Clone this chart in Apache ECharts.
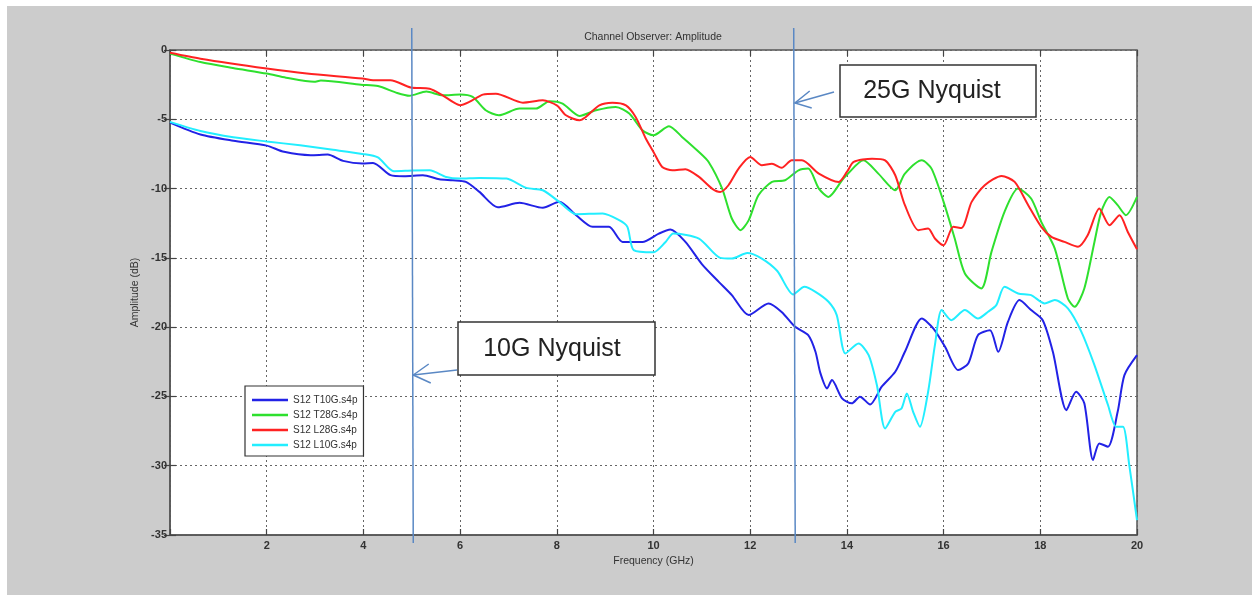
<!DOCTYPE html>
<html><head><meta charset="utf-8">
<script src="https://cdn.jsdelivr.net/npm/echarts@6/dist/echarts.min.js"></script>
<style>
html,body{margin:0;padding:0;background:#fff;}
#wrap{position:relative;width:1252px;height:595px;overflow:hidden;}
#bg{position:absolute;left:7px;top:6px;width:1245px;height:589px;background:#cccccc;}
#chart{position:absolute;left:0;top:0;width:1252px;height:595px;}
</style></head><body>
<div id="wrap"><div id="bg"></div><div id="chart"></div></div>
<script>
const chartTitle = 'Channel Observer: Amplitude';
const xName = 'Frequency (GHz)';
const yName = 'Amplitude (dB)';
const seriesNames = ['S12 T10G.s4p', 'S12 T28G.s4p', 'S12 L28G.s4p', 'S12 L10G.s4p'];
const seriesColors = ['#2222e6', '#2ee02e', '#ff2222', '#22eeff'];
const nyquistFreqs = [5.0, 12.9];
const nyquistLabels = ['10G Nyquist', '25G Nyquist'];

const t10gFreq = [0,0.63,1.31,2.0,2.36,2.91,3.26,3.58,3.98,4.2,4.56,4.84,5.23,5.57,5.85,6.12,6.4,6.78,7.23,7.71,8.05,8.4,8.74,9.08,9.36,9.77,10.11,10.35,10.66,11.0,11.35,11.62,11.97,12.38,12.65,12.93,13.2,13.35,13.45,13.59,13.69,13.9,14.1,14.27,14.48,14.72,15.0,15.2,15.55,15.79,16.03,16.3,16.51,16.71,16.96,17.13,17.33,17.57,17.81,18.05,18.26,18.54,18.74,18.91,19.09,19.22,19.4,19.6,19.74,20.0];
const t10gDb = [-5.24,-6.1,-6.55,-6.9,-7.35,-7.59,-7.55,-8.0,-8.19,-8.15,-9.03,-9.11,-9.04,-9.33,-9.4,-9.52,-10.24,-11.35,-11.03,-11.39,-10.96,-11.92,-12.76,-12.76,-13.85,-13.85,-13.25,-12.96,-13.85,-15.45,-16.73,-17.69,-19.13,-18.29,-18.9,-19.98,-20.58,-21.78,-23.3,-24.42,-23.82,-25.14,-25.5,-25.02,-25.58,-24.3,-23.22,-21.78,-19.38,-20.1,-21.42,-23.1,-22.62,-20.58,-20.22,-21.78,-19.62,-18.05,-18.77,-19.5,-21.78,-25.99,-24.66,-25.5,-29.59,-28.39,-28.63,-26.11,-23.46,-22.02];

const t28gFreq = [0,0.63,1.3,2.0,2.4,2.98,3.12,3.95,4.3,4.7,4.95,5.3,5.64,6.0,6.26,6.53,6.8,7.23,7.57,7.85,8.12,8.47,8.81,9.22,9.5,9.77,10.0,10.32,10.59,10.94,11.14,11.42,11.62,11.8,11.97,12.17,12.45,12.72,13.0,13.2,13.42,13.62,13.9,14.0,14.34,14.65,15.0,15.2,15.55,15.75,16.0,16.23,16.44,16.78,16.99,17.26,17.54,17.81,18.02,18.3,18.57,18.71,18.91,19.12,19.26,19.43,19.6,19.77,20.0];
const t28gDb = [-0.26,-0.87,-1.3,-1.7,-2.0,-2.3,-2.2,-2.5,-2.6,-3.1,-3.3,-3.0,-3.27,-3.22,-3.39,-4.35,-4.71,-4.23,-4.23,-3.7,-3.87,-4.76,-4.35,-4.11,-4.59,-5.79,-6.15,-5.5,-6.27,-7.36,-8.08,-10.0,-12.16,-13.0,-12.28,-10.48,-9.52,-9.4,-8.68,-8.56,-10.0,-10.6,-9.4,-9.0,-7.96,-8.92,-10.12,-8.92,-7.96,-8.56,-10.96,-13.6,-16.13,-17.21,-14.57,-11.68,-10.0,-10.72,-12.4,-14.33,-17.93,-18.53,-17.21,-13.85,-11.68,-10.6,-11.2,-11.92,-10.6];

const l28gFreq = [0,0.63,2.0,2.83,3.98,4.2,4.56,4.98,5.37,5.64,5.85,6.0,6.19,6.47,6.74,7.3,7.71,8.0,8.19,8.47,8.6,8.88,9.15,9.43,9.63,9.84,10.0,10.18,10.39,10.66,10.94,11.21,11.38,11.55,11.76,12.0,12.24,12.45,12.65,12.86,13.07,13.42,13.83,14.0,14.14,14.52,14.79,15.0,15.2,15.48,15.68,15.82,16.0,16.2,16.37,16.58,16.85,17.2,17.47,17.75,18.02,18.23,18.5,18.78,18.98,19.22,19.43,19.64,19.81,20.0];
const l28gDb = [-0.2,-0.63,-1.34,-1.7,-2.06,-2.18,-2.18,-2.71,-2.79,-3.27,-3.75,-3.99,-3.75,-3.22,-3.15,-3.8,-3.63,-3.99,-4.71,-5.07,-4.83,-3.99,-3.8,-3.99,-4.83,-6.39,-7.36,-8.44,-8.68,-8.6,-9.16,-10.0,-10.24,-9.76,-8.56,-7.72,-8.32,-8.2,-8.5,-7.96,-7.96,-8.92,-9.52,-8.8,-8.08,-7.84,-7.96,-9.04,-11.2,-13.0,-12.88,-13.6,-14.09,-12.76,-12.84,-10.96,-9.76,-9.09,-9.52,-11.2,-12.76,-13.49,-13.85,-14.2,-13.37,-11.44,-12.64,-11.92,-13.13,-14.38];

const l10gFreq = [0,0.63,1.31,2.0,2.69,3.37,3.98,4.3,4.63,5.02,5.37,5.71,5.99,6.4,6.96,7.37,7.71,8.05,8.4,8.95,9.29,9.46,9.59,10.0,10.25,10.41,10.94,11.38,11.62,11.94,12.24,12.56,12.89,13.12,13.35,13.62,13.79,13.97,14.24,14.45,14.62,14.79,15.0,15.13,15.24,15.37,15.51,15.68,15.82,15.96,16.16,16.44,16.71,16.92,17.09,17.26,17.54,17.81,18.09,18.3,18.57,18.85,19.12,19.4,19.57,19.71,19.84,20.0];
const l10gDb = [-5.19,-5.85,-6.3,-6.6,-6.88,-7.2,-7.5,-7.75,-8.75,-8.7,-8.68,-9.16,-9.28,-9.23,-9.28,-9.95,-10.12,-10.96,-11.85,-11.8,-12.28,-12.76,-14.44,-14.6,-13.85,-13.25,-13.61,-15.0,-15.05,-14.65,-15.05,-15.95,-17.64,-17.09,-17.45,-18.17,-19.13,-21.9,-21.18,-22.02,-24.18,-27.31,-26.11,-25.87,-24.78,-26.11,-27.19,-24.66,-21.3,-18.77,-19.5,-18.77,-19.38,-18.89,-18.41,-17.09,-17.57,-17.69,-18.29,-18.05,-18.65,-20.34,-22.74,-25.62,-27.19,-27.19,-29.95,-33.92];

const xTicks = {min: 0, max: 20, interval: 2};
const yTicks = {min: -35, max: 0, interval: 5};

function zip(a, b) { return a.map((v, i) => [v, b[i]]); }
const seriesData = [zip(t10gFreq, t10gDb), zip(t28gFreq, t28gDb), zip(l28gFreq, l28gDb), zip(l10gFreq, l10gDb)];

const FONT = '"Liberation Sans", Arial, sans-serif';
const chart = echarts.init(document.getElementById('chart'), null, {renderer: 'canvas'});

const gridLine = {show: true, lineStyle: {color: '#666', width: 1, type: [2, 3]}};
const tickIn = {show: true, inside: true, length: 6, lineStyle: {color: '#444', width: 1.2}};

const option = {
  backgroundColor: 'transparent',
  animation: false,
  grid: {left: 170, top: 50, right: 115, bottom: 60, show: true, backgroundColor: '#ffffff', borderColor: '#555', borderWidth: 1.5},
  legend: {
    data: seriesNames, orient: 'vertical', left: 245, top: 386,
    icon: 'rect', itemWidth: 36, itemHeight: 2.5, itemGap: 3,
    padding: [8, 6, 5, 7],
    backgroundColor: '#ffffff', borderColor: '#333', borderWidth: 1.2, borderRadius: 0,
    textStyle: {fontFamily: FONT, fontSize: 10, color: '#333', lineHeight: 12},
    selectedMode: false
  },
  xAxis: [{
    type: 'value', min: xTicks.min, max: xTicks.max, interval: xTicks.interval,
    name: xName, nameLocation: 'middle', nameGap: 20,
    nameTextStyle: {fontFamily: FONT, fontSize: 10.5, color: '#333'},
    axisLine: {show: true, onZero: false, lineStyle: {color: '#555', width: 1.5}},
    axisTick: tickIn, splitLine: gridLine,
    axisLabel: {fontFamily: FONT, fontSize: 11, fontWeight: 'bold', color: '#333', margin: 5,
      formatter: v => v === 0 ? '' : String(v)}
  }, {
    type: 'value', position: 'top', min: xTicks.min, max: xTicks.max, interval: xTicks.interval,
    axisLine: {show: false}, axisTick: tickIn, splitLine: {show: false}, axisLabel: {show: false}
  }],
  yAxis: [{
    type: 'value', min: yTicks.min, max: yTicks.max, interval: yTicks.interval,
    name: yName, nameLocation: 'middle', nameGap: 28, nameRotate: 90,
    nameTextStyle: {fontFamily: FONT, fontSize: 10.5, color: '#333'},
    axisLine: {show: true, onZero: false, lineStyle: {color: '#555', width: 1.5}},
    axisTick: tickIn, splitLine: gridLine,
    axisLabel: {fontFamily: FONT, fontSize: 11, fontWeight: 'bold', color: '#333', margin: 3}
  }, {
    type: 'value', position: 'right', min: yTicks.min, max: yTicks.max, interval: yTicks.interval,
    axisLine: {show: false}, axisTick: tickIn, splitLine: {show: false}, axisLabel: {show: false}
  }],
  series: seriesNames.map((n, i) => ({
    name: n, type: 'line', data: seriesData[i], showSymbol: false, smooth: 0.25,
    color: seriesColors[i], lineStyle: {width: 2, color: seriesColors[i]},
    xAxisIndex: 0, yAxisIndex: 0, clip: true
  }))
};
chart.setOption(option);

const lineColor = '#5a88c4';
const xA = chart.convertToPixel({xAxisIndex: 0}, nyquistFreqs[0]);
const xB = chart.convertToPixel({xAxisIndex: 0}, nyquistFreqs[1]);
const graphics = [
  {type: 'text', x: 653, y: 37, style: {text: chartTitle, align: 'center', verticalAlign: 'middle', font: '10.5px ' + FONT, fill: '#333'}, z: 50},
  {type: 'line', shape: {x1: xA, y1: 28, x2: xA + 1.5, y2: 543}, style: {stroke: lineColor, lineWidth: 1.5}, z: 100},
  {type: 'line', shape: {x1: xB, y1: 28, x2: xB + 1.5, y2: 543}, style: {stroke: lineColor, lineWidth: 1.5}, z: 100},
  {type: 'rect', shape: {x: 458, y: 322, width: 197, height: 53}, style: {fill: '#fff', stroke: '#333', lineWidth: 1.5}, z: 101},
  {type: 'text', x: 552, y: 349, style: {text: nyquistLabels[0], align: 'center', verticalAlign: 'middle', font: '25px ' + FONT, fill: '#222'}, z: 102},
  {type: 'polyline', shape: {points: [[457, 370], [xA + 1.5, 375]]}, style: {stroke: lineColor, lineWidth: 1.5, fill: null}, z: 101},
  {type: 'polyline', shape: {points: [[xA + 17, 364], [xA + 1.5, 375], [xA + 19, 383]]}, style: {stroke: lineColor, lineWidth: 1.5, fill: null}, z: 101},
  {type: 'rect', shape: {x: 840, y: 65, width: 196, height: 52}, style: {fill: '#fff', stroke: '#333', lineWidth: 1.5}, z: 101},
  {type: 'text', x: 932, y: 91, style: {text: nyquistLabels[1], align: 'center', verticalAlign: 'middle', font: '25px ' + FONT, fill: '#222'}, z: 102},
  {type: 'polyline', shape: {points: [[834, 92], [xB + 1.2, 103]]}, style: {stroke: lineColor, lineWidth: 1.5, fill: null}, z: 101},
  {type: 'polyline', shape: {points: [[xB + 16, 91], [xB + 1.2, 103], [xB + 18, 108]]}, style: {stroke: lineColor, lineWidth: 1.5, fill: null}, z: 101}
];
chart.setOption({graphic: graphics});
</script>
</body></html>
